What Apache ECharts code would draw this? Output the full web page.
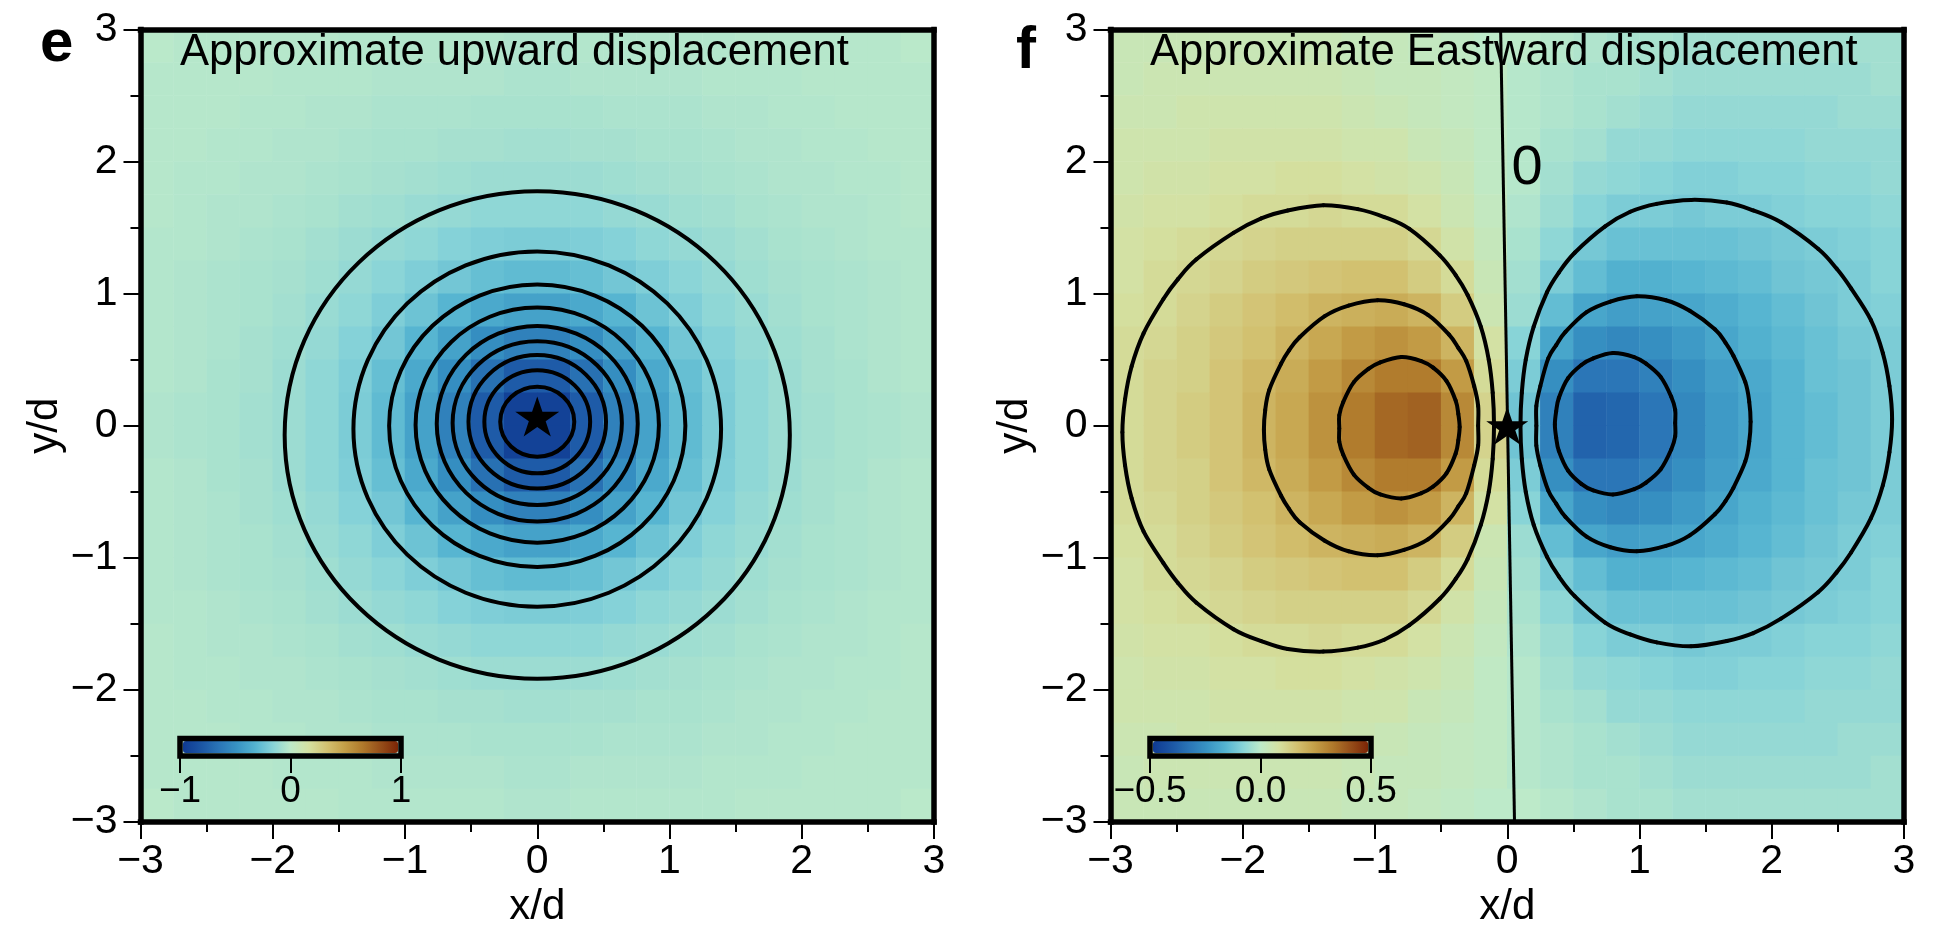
<!DOCTYPE html>
<html>
<head>
<meta charset="utf-8">
<title>Approximate displacement</title>
<script src="https://cdn.jsdelivr.net/npm/echarts@6.0.0/dist/echarts.min.js"></script>
<style>
html, body { margin: 0; padding: 0; background: #fff; }
#chart { width: 1945px; height: 946px; }
</style>
</head>
<body>
<div id="chart"></div>
<script>
// cell centres of the 24 x 24 sampling grid (x/d and y/d)
var cellCenters = [-2.875,-2.625,-2.375,-2.125,-1.875,-1.625,-1.375,-1.125,-0.875,-0.625,-0.375,-0.125,
                   0.125,0.375,0.625,0.875,1.125,1.375,1.625,1.875,2.125,2.375,2.625,2.875];

// panel e: upward displacement, rows from y/d = +2.875 (top) to -2.875 (bottom)
var upward = [
  [-.01,-.02,-.02,-.02,-.02,-.02,-.03,-.03,-.03,-.03,-.03,-.04,-.04,-.03,-.03,-.03,-.03,-.03,-.02,-.02,-.02,-.02,-.02,-.01],
  [-.02,-.02,-.02,-.02,-.03,-.03,-.03,-.04,-.04,-.04,-.04,-.05,-.05,-.04,-.04,-.04,-.04,-.03,-.03,-.03,-.02,-.02,-.02,-.02],
  [-.02,-.02,-.02,-.03,-.03,-.04,-.04,-.05,-.05,-.05,-.06,-.06,-.06,-.06,-.05,-.05,-.05,-.04,-.04,-.03,-.03,-.02,-.02,-.02],
  [-.02,-.02,-.03,-.03,-.04,-.04,-.05,-.06,-.06,-.07,-.07,-.08,-.08,-.07,-.07,-.06,-.06,-.05,-.04,-.04,-.03,-.03,-.02,-.02],
  [-.02,-.03,-.03,-.04,-.04,-.05,-.06,-.07,-.08,-.09,-.10,-.10,-.10,-.10,-.09,-.08,-.07,-.06,-.05,-.04,-.04,-.03,-.03,-.02],
  [-.02,-.03,-.04,-.04,-.05,-.06,-.08,-.09,-.11,-.12,-.14,-.14,-.14,-.14,-.12,-.11,-.09,-.08,-.06,-.05,-.04,-.04,-.03,-.02],
  [-.03,-.03,-.04,-.05,-.06,-.08,-.10,-.12,-.14,-.17,-.19,-.20,-.20,-.19,-.17,-.14,-.12,-.10,-.08,-.06,-.05,-.04,-.03,-.03],
  [-.03,-.04,-.05,-.06,-.07,-.09,-.12,-.15,-.19,-.23,-.27,-.29,-.29,-.27,-.23,-.19,-.15,-.12,-.09,-.07,-.06,-.05,-.04,-.03],
  [-.03,-.04,-.05,-.06,-.08,-.11,-.14,-.19,-.25,-.32,-.38,-.42,-.42,-.38,-.32,-.25,-.19,-.14,-.11,-.08,-.06,-.05,-.04,-.03],
  [-.03,-.04,-.05,-.07,-.09,-.12,-.17,-.23,-.32,-.42,-.53,-.60,-.60,-.53,-.42,-.32,-.23,-.17,-.12,-.09,-.07,-.05,-.04,-.03],
  [-.03,-.04,-.06,-.07,-.10,-.14,-.19,-.27,-.38,-.53,-.69,-.80,-.80,-.69,-.53,-.38,-.27,-.19,-.14,-.10,-.07,-.06,-.04,-.03],
  [-.04,-.05,-.06,-.08,-.10,-.14,-.20,-.29,-.42,-.60,-.80,-.95,-.95,-.80,-.60,-.42,-.29,-.20,-.14,-.10,-.08,-.06,-.05,-.04],
  [-.04,-.05,-.06,-.08,-.10,-.14,-.20,-.29,-.42,-.60,-.80,-.95,-.95,-.80,-.60,-.42,-.29,-.20,-.14,-.10,-.08,-.06,-.05,-.04],
  [-.03,-.04,-.06,-.07,-.10,-.14,-.19,-.27,-.38,-.53,-.69,-.80,-.80,-.69,-.53,-.38,-.27,-.19,-.14,-.10,-.07,-.06,-.04,-.03],
  [-.03,-.04,-.05,-.07,-.09,-.12,-.17,-.23,-.32,-.42,-.53,-.60,-.60,-.53,-.42,-.32,-.23,-.17,-.12,-.09,-.07,-.05,-.04,-.03],
  [-.03,-.04,-.05,-.06,-.08,-.11,-.14,-.19,-.25,-.32,-.38,-.42,-.42,-.38,-.32,-.25,-.19,-.14,-.11,-.08,-.06,-.05,-.04,-.03],
  [-.03,-.04,-.05,-.06,-.07,-.09,-.12,-.15,-.19,-.23,-.27,-.29,-.29,-.27,-.23,-.19,-.15,-.12,-.09,-.07,-.06,-.05,-.04,-.03],
  [-.03,-.03,-.04,-.05,-.06,-.08,-.10,-.12,-.14,-.17,-.19,-.20,-.20,-.19,-.17,-.14,-.12,-.10,-.08,-.06,-.05,-.04,-.03,-.03],
  [-.02,-.03,-.04,-.04,-.05,-.06,-.08,-.09,-.11,-.12,-.14,-.14,-.14,-.14,-.12,-.11,-.09,-.08,-.06,-.05,-.04,-.04,-.03,-.02],
  [-.02,-.03,-.03,-.04,-.04,-.05,-.06,-.07,-.08,-.09,-.10,-.10,-.10,-.10,-.09,-.08,-.07,-.06,-.05,-.04,-.04,-.03,-.03,-.02],
  [-.02,-.02,-.03,-.03,-.04,-.04,-.05,-.06,-.06,-.07,-.07,-.08,-.08,-.07,-.07,-.06,-.06,-.05,-.04,-.04,-.03,-.03,-.02,-.02],
  [-.02,-.02,-.02,-.03,-.03,-.04,-.04,-.05,-.05,-.05,-.06,-.06,-.06,-.06,-.05,-.05,-.05,-.04,-.04,-.03,-.03,-.02,-.02,-.02],
  [-.02,-.02,-.02,-.02,-.03,-.03,-.03,-.04,-.04,-.04,-.04,-.05,-.05,-.04,-.04,-.04,-.04,-.03,-.03,-.03,-.02,-.02,-.02,-.02],
  [-.01,-.02,-.02,-.02,-.02,-.02,-.03,-.03,-.03,-.03,-.03,-.04,-.04,-.03,-.03,-.03,-.03,-.03,-.02,-.02,-.02,-.02,-.02,-.01]
];

// panel f: eastward displacement, same grid
var eastward = [
  [.04,.04,.04,.04,.04,.04,.04,.03,.03,.02,.01,.00,.00,-.01,-.02,-.03,-.03,-.04,-.04,-.04,-.04,-.04,-.04,-.04],
  [.04,.05,.05,.05,.05,.05,.05,.04,.03,.03,.02,.01,-.01,-.02,-.03,-.03,-.04,-.05,-.05,-.05,-.05,-.05,-.05,-.04],
  [.05,.05,.06,.06,.06,.06,.06,.05,.04,.03,.02,.01,-.01,-.02,-.03,-.04,-.05,-.06,-.06,-.06,-.06,-.06,-.05,-.05],
  [.06,.06,.06,.07,.07,.07,.07,.06,.06,.04,.03,.01,-.01,-.03,-.04,-.06,-.06,-.07,-.07,-.07,-.07,-.06,-.06,-.06],
  [.06,.07,.07,.08,.08,.09,.09,.08,.07,.06,.04,.01,-.01,-.04,-.06,-.07,-.08,-.09,-.09,-.08,-.08,-.07,-.07,-.06],
  [.07,.08,.08,.09,.10,.10,.11,.10,.10,.08,.05,.02,-.02,-.05,-.08,-.10,-.10,-.11,-.10,-.10,-.09,-.08,-.08,-.07],
  [.08,.09,.10,.11,.12,.13,.13,.13,.13,.11,.07,.03,-.03,-.07,-.11,-.13,-.13,-.13,-.13,-.12,-.11,-.10,-.09,-.08],
  [.08,.10,.11,.12,.14,.15,.16,.17,.17,.14,.10,.04,-.04,-.10,-.14,-.17,-.17,-.16,-.15,-.14,-.12,-.11,-.10,-.08],
  [.09,.10,.12,.14,.16,.18,.20,.21,.22,.20,.14,.05,-.05,-.14,-.20,-.22,-.21,-.20,-.18,-.16,-.14,-.12,-.10,-.09],
  [.10,.11,.13,.15,.17,.20,.23,.26,.28,.26,.20,.08,-.08,-.20,-.26,-.28,-.26,-.23,-.20,-.17,-.15,-.13,-.11,-.10],
  [.10,.12,.13,.16,.19,.22,.26,.30,.33,.33,.26,.10,-.10,-.26,-.33,-.33,-.30,-.26,-.22,-.19,-.16,-.13,-.12,-.10],
  [.10,.12,.14,.16,.20,.23,.28,.33,.37,.38,.30,.12,-.12,-.30,-.38,-.37,-.33,-.28,-.23,-.20,-.16,-.14,-.12,-.10],
  [.10,.12,.14,.16,.20,.23,.28,.33,.37,.38,.30,.12,-.12,-.30,-.38,-.37,-.33,-.28,-.23,-.20,-.16,-.14,-.12,-.10],
  [.10,.12,.13,.16,.19,.22,.26,.30,.33,.33,.26,.10,-.10,-.26,-.33,-.33,-.30,-.26,-.22,-.19,-.16,-.13,-.12,-.10],
  [.10,.11,.13,.15,.17,.20,.23,.26,.28,.26,.20,.08,-.08,-.20,-.26,-.28,-.26,-.23,-.20,-.17,-.15,-.13,-.11,-.10],
  [.09,.10,.12,.14,.16,.18,.20,.21,.22,.20,.14,.05,-.05,-.14,-.20,-.22,-.21,-.20,-.18,-.16,-.14,-.12,-.10,-.09],
  [.08,.10,.11,.12,.14,.15,.16,.17,.17,.14,.10,.04,-.04,-.10,-.14,-.17,-.17,-.16,-.15,-.14,-.12,-.11,-.10,-.08],
  [.08,.09,.10,.11,.12,.13,.13,.13,.13,.11,.07,.03,-.03,-.07,-.11,-.13,-.13,-.13,-.13,-.12,-.11,-.10,-.09,-.08],
  [.07,.08,.08,.09,.10,.10,.11,.10,.10,.08,.05,.02,-.02,-.05,-.08,-.10,-.10,-.11,-.10,-.10,-.09,-.08,-.08,-.07],
  [.06,.07,.07,.08,.08,.09,.09,.08,.07,.06,.04,.01,-.01,-.04,-.06,-.07,-.08,-.09,-.09,-.08,-.08,-.07,-.07,-.06],
  [.06,.06,.06,.07,.07,.07,.07,.06,.06,.04,.03,.01,-.01,-.03,-.04,-.06,-.06,-.07,-.07,-.07,-.07,-.06,-.06,-.06],
  [.05,.05,.06,.06,.06,.06,.06,.05,.04,.03,.02,.01,-.01,-.02,-.03,-.04,-.05,-.06,-.06,-.06,-.06,-.06,-.05,-.05],
  [.04,.05,.05,.05,.05,.05,.05,.04,.03,.03,.02,.01,-.01,-.02,-.03,-.03,-.04,-.05,-.05,-.05,-.05,-.05,-.05,-.04],
  [.04,.04,.04,.04,.04,.04,.04,.03,.03,.02,.01,.00,.00,-.01,-.02,-.03,-.03,-.04,-.04,-.04,-.04,-.04,-.04,-.04]
];

// panel e contours (levels -0.9 ... -0.1): centre and semi-axes
var upRingCx = [0, 0, 0, 0, 0, 0, 0, 0, 0];
var upRingCy = [0.03, 0.03, 0.03, 0.02, 0.015, 0.005, 0.0, -0.025, -0.07];
var upRingRx = [0.28, 0.40, 0.52, 0.64, 0.76, 0.92, 1.12, 1.39, 1.91];
var upRingRy = [0.265, 0.39, 0.505, 0.62, 0.74, 0.89, 1.07, 1.345, 1.845];

// panel f contours (+0.1, +0.2, +0.3 west of the source; -0.1, -0.2, -0.3 east of it)
var eastPos01 = [[-0.10,0.00],[-0.11,0.25],[-0.14,0.50],[-0.20,0.75],[-0.30,0.99],[-0.39,1.14],[-0.51,1.29],[-0.74,1.49],[-0.93,1.58],[-1.13,1.64],[-1.39,1.67],[-1.66,1.63],[-1.86,1.57],[-2.07,1.46],[-2.35,1.26],[-2.49,1.11],[-2.60,0.96],[-2.75,0.70],[-2.84,0.45],[-2.89,0.20],[-2.91,-0.05],
  [-2.89,-0.30],[-2.84,-0.55],[-2.75,-0.80],[-2.60,-1.04],[-2.49,-1.19],[-2.35,-1.34],[-2.07,-1.54],[-1.86,-1.63],[-1.66,-1.69],[-1.39,-1.71],[-1.13,-1.68],[-0.93,-1.62],[-0.74,-1.51],[-0.51,-1.31],[-0.39,-1.16],[-0.30,-1.01],[-0.20,-0.75],[-0.14,-0.50],[-0.11,-0.25]];
var eastNeg01 = [[0.10,0.00],[0.11,0.25],[0.14,0.50],[0.20,0.75],[0.30,1.01],[0.39,1.16],[0.51,1.31],[0.74,1.51],[0.93,1.62],[1.13,1.68],[1.39,1.71],[1.66,1.69],[1.86,1.63],[2.07,1.54],[2.35,1.34],[2.49,1.19],[2.60,1.04],[2.75,0.80],[2.84,0.55],[2.89,0.30],[2.91,0.05],
  [2.89,-0.20],[2.84,-0.45],[2.75,-0.70],[2.60,-0.96],[2.49,-1.11],[2.35,-1.26],[2.07,-1.46],[1.86,-1.57],[1.66,-1.63],[1.39,-1.67],[1.13,-1.64],[0.93,-1.58],[0.74,-1.49],[0.51,-1.29],[0.39,-1.14],[0.30,-0.99],[0.20,-0.75],[0.14,-0.50],[0.11,-0.25]];
var eastPos02 = [[-0.22,0.00],[-0.22,0.15],[-0.25,0.30],[-0.31,0.49],[-0.37,0.59],[-0.44,0.69],[-0.60,0.84],[-0.78,0.92],[-0.98,0.95],[-1.20,0.91],[-1.38,0.83],[-1.57,0.67],[-1.65,0.57],[-1.71,0.47],[-1.80,0.27],[-1.83,0.12],[-1.84,-0.03],
  [-1.83,-0.18],[-1.80,-0.33],[-1.71,-0.53],[-1.65,-0.63],[-1.57,-0.73],[-1.38,-0.87],[-1.20,-0.95],[-0.98,-0.98],[-0.78,-0.94],[-0.60,-0.86],[-0.44,-0.71],[-0.37,-0.61],[-0.31,-0.51],[-0.25,-0.30],[-0.22,-0.15]];
var eastNeg02 = [[0.22,0.00],[0.22,0.15],[0.25,0.30],[0.31,0.51],[0.37,0.61],[0.44,0.71],[0.60,0.86],[0.78,0.94],[0.98,0.98],[1.20,0.95],[1.38,0.87],[1.57,0.73],[1.65,0.63],[1.71,0.53],[1.80,0.33],[1.83,0.18],[1.84,0.03],
  [1.83,-0.12],[1.80,-0.27],[1.71,-0.47],[1.65,-0.57],[1.57,-0.67],[1.38,-0.83],[1.20,-0.91],[0.98,-0.95],[0.78,-0.92],[0.60,-0.84],[0.44,-0.69],[0.37,-0.59],[0.31,-0.49],[0.25,-0.30],[0.22,-0.15]];
var eastPos03 = [[-0.36,-0.01],[-0.37,0.09],[-0.39,0.19],[-0.46,0.34],[-0.56,0.44],[-0.65,0.49],[-0.80,0.52],[-0.96,0.48],[-1.05,0.43],[-1.16,0.33],[-1.24,0.18],[-1.27,0.08],[-1.27,-0.02],
  [-1.27,-0.12],[-1.24,-0.22],[-1.16,-0.37],[-1.05,-0.47],[-0.96,-0.52],[-0.80,-0.55],[-0.65,-0.51],[-0.56,-0.46],[-0.46,-0.36],[-0.39,-0.21],[-0.37,-0.11]];
var eastNeg03 = [[0.36,0.01],[0.37,0.11],[0.39,0.21],[0.46,0.36],[0.56,0.46],[0.65,0.51],[0.80,0.55],[0.96,0.52],[1.05,0.47],[1.16,0.37],[1.24,0.22],[1.27,0.12],[1.27,0.02],
  [1.27,-0.08],[1.24,-0.18],[1.16,-0.33],[1.05,-0.43],[0.96,-0.48],[0.80,-0.52],[0.65,-0.49],[0.56,-0.44],[0.46,-0.34],[0.39,-0.19],[0.37,-0.09]];
var eastZero = [[-0.05, 3.0], [0.055, -3.0]];
var eastZeroLabel = [[0.15, 1.95]];

var sourceE = [[0, 0.07]];
var sourceF = [[0, 0]];

var romaR = ['#0f3a92','#1b55a4','#2a75b6','#3893c3','#53b2d0','#86d3d8','#bdeac9',
             '#d4e1a2','#d3c272','#c4a048','#b07a2c','#96501a','#7c2506'];

var FONT = 'Liberation Sans';
var MINUS = function (v) { return String(v).replace('-', '\u2212'); };
var STAR = 'path://M50,0L61.2,34.5L97.6,34.5L68.2,55.9L79.4,90.5L50,69.1L20.6,90.5L31.8,55.9L2.4,34.5L38.8,34.5Z';
var eastContours = [eastPos01, eastPos02, eastPos03, eastNeg01, eastNeg02, eastNeg03];

function toCells(rows) {
    var out = [];
    for (var r = 0; r < rows.length; r++) {
        for (var c = 0; c < rows[r].length; c++) {
            out.push([c, rows.length - 1 - r, rows[r][c]]);
        }
    }
    return out;
}

function frameX(g, pos) {
    return {
        type: 'value', gridIndex: g, position: pos, min: -3, max: 3, interval: 1, z: 10,
        axisLine: { show: true, onZero: false, lineStyle: { color: '#000', width: 5.5, cap: 'square' } },
        axisTick: { show: false }, axisLabel: { show: false }, splitLine: { show: false }
    };
}
function mainAxis(g, pos, name) {
    var horiz = (pos === 'bottom');
    return {
        type: 'value', gridIndex: g, position: pos, min: -3, max: 3, interval: 1, z: 10,
        name: name, nameLocation: 'middle', nameGap: horiz ? 63 : 70, nameRotate: horiz ? 0 : 90,
        nameTextStyle: { fontFamily: FONT, fontSize: 42, color: '#000' },
        axisLine: { show: true, onZero: false, lineStyle: { color: '#000', width: 5.5, cap: 'square' } },
        axisTick: { show: true, inside: false, length: 17, lineStyle: { color: '#000', width: 2 } },
        minorTick: { show: true, splitNumber: 2, length: 10, lineStyle: { color: '#000', width: 2 } },
        axisLabel: { show: true, margin: horiz ? 19 : 23, fontFamily: FONT, fontSize: 41, color: '#000', formatter: MINUS },
        splitLine: { show: false }
    };
}
function cellAxis(g) {
    return { type: 'category', gridIndex: g, data: cellCenters, show: false };
}
function cbarX(g, min, max, interval, fmt) {
    return {
        type: 'value', gridIndex: g, position: 'bottom', min: min, max: max, interval: interval, z: 20,
        axisLine: { show: false },
        axisTick: { show: true, inside: false, length: 17, lineStyle: { color: '#000', width: 2 } },
        axisLabel: { show: true, margin: 17, fontFamily: FONT, fontSize: 37, color: '#000', formatter: fmt },
        splitLine: { show: false }
    };
}
function cbarY(g) {
    return { type: 'value', gridIndex: g, min: 0, max: 1, show: false };
}

// closed contour drawn as a Catmull-Rom curve through the read points
function renderContour(params, api) {
    var pts = eastContours[params.dataIndex].map(function (p) { return api.coord(p); });
    var n = pts.length, kids = [];
    for (var i = 0; i < n; i++) {
        var p0 = pts[(i - 1 + n) % n], p1 = pts[i], p2 = pts[(i + 1) % n], p3 = pts[(i + 2) % n];
        kids.push({
            type: 'bezierCurve',
            shape: {
                x1: p1[0], y1: p1[1], x2: p2[0], y2: p2[1],
                cpx1: p1[0] + (p2[0] - p0[0]) / 6, cpy1: p1[1] + (p2[1] - p0[1]) / 6,
                cpx2: p2[0] - (p3[0] - p1[0]) / 6, cpy2: p2[1] - (p3[1] - p1[1]) / 6
            },
            style: { fill: null, stroke: '#000', lineWidth: 4, lineCap: 'round' }
        });
    }
    return { type: 'group', children: kids };
}

var upRings = upRingCx.map(function (cx, i) { return [cx, upRingCy[i], upRingRx[i], upRingRy[i]]; });

var option = {
    animation: false,
    backgroundColor: '#fff',
    textStyle: { fontFamily: FONT },
    title: [
        { text: 'Approximate upward displacement', left: 180, top: 31, padding: 0,
          textStyle: { fontFamily: FONT, fontSize: 43.6, fontWeight: 'normal', color: '#000' } },
        { text: 'Approximate Eastward displacement', left: 1150, top: 31, padding: 0,
          textStyle: { fontFamily: FONT, fontSize: 43.6, fontWeight: 'normal', color: '#000' } },
        { text: 'e', left: 40, top: 14, padding: 0,
          textStyle: { fontFamily: FONT, fontSize: 60, fontWeight: 'bold', color: '#000' } },
        { text: 'f', left: 1016, top: 21, padding: 0,
          textStyle: { fontFamily: FONT, fontSize: 60, fontWeight: 'bold', color: '#000' } }
    ],
    grid: [
        { left: 140.5, top: 29.5, width: 793.5, height: 792.5, outerBoundsMode: 'none' },
        { left: 1110.5, top: 29.5, width: 793.5, height: 792.5, outerBoundsMode: 'none' },
        { left: 180, top: 738.5, width: 221, height: 17.5, show: true, z: 20,
          borderColor: '#000', borderWidth: 5.5, backgroundColor: 'transparent', outerBoundsMode: 'none' },
        { left: 1150, top: 738.5, width: 221, height: 17.5, show: true, z: 20,
          borderColor: '#000', borderWidth: 5.5, backgroundColor: 'transparent', outerBoundsMode: 'none' }
    ],
    xAxis: [
        mainAxis(0, 'bottom', 'x/d'), frameX(0, 'top'), cellAxis(0),
        mainAxis(1, 'bottom', 'x/d'), frameX(1, 'top'), cellAxis(1),
        cbarX(2, -1, 1, 1, MINUS),
        cbarX(3, -0.5, 0.5, 0.5, function (v) { return v.toFixed(1).replace('-', '\u2212'); })
    ],
    yAxis: [
        mainAxis(0, 'left', 'y/d'), frameX(0, 'right'), cellAxis(0),
        mainAxis(1, 'left', 'y/d'), frameX(1, 'right'), cellAxis(1),
        cbarY(2), cbarY(3)
    ],
    visualMap: [
        { type: 'continuous', seriesIndex: 0, dimension: 2, min: -1, max: 1,
          orient: 'horizontal', left: 183, top: 741, itemWidth: 12, itemHeight: 215,
          calculable: false, hoverLink: false, padding: 0, text: null, showLabel: false,
          inRange: { color: romaR } },
        { type: 'continuous', seriesIndex: 1, dimension: 2, min: -0.5, max: 0.5,
          orient: 'horizontal', left: 1153, top: 741, itemWidth: 12, itemHeight: 215,
          calculable: false, hoverLink: false, padding: 0, text: null, showLabel: false,
          inRange: { color: romaR } }
    ],
    series: [
        { type: 'heatmap', xAxisIndex: 2, yAxisIndex: 2, data: toCells(upward), silent: true,
          emphasis: { disabled: true } },
        { type: 'heatmap', xAxisIndex: 5, yAxisIndex: 5, data: toCells(eastward), silent: true,
          emphasis: { disabled: true } },
        {
            type: 'custom', xAxisIndex: 0, yAxisIndex: 0, data: upRings, silent: true, z: 5,
            renderItem: function (params, api) {
                var c = api.coord([api.value(0), api.value(1)]);
                var s = api.size([api.value(2), api.value(3)]);
                return {
                    type: 'ellipse',
                    shape: { cx: c[0], cy: c[1], rx: s[0], ry: s[1] },
                    style: { fill: 'none', stroke: '#000', lineWidth: 4 }
                };
            }
        },
        { type: 'custom', xAxisIndex: 3, yAxisIndex: 3, data: eastContours.map(function (c, i) { return [0, 0]; }),
          silent: true, z: 5, renderItem: renderContour },
        { type: 'line', xAxisIndex: 3, yAxisIndex: 3, data: eastZero, symbol: 'none', silent: true, z: 5,
          lineStyle: { color: '#000', width: 3, opacity: 1 } },
        { type: 'scatter', xAxisIndex: 0, yAxisIndex: 0, data: sourceE, symbol: STAR, symbolSize: [44, 40],
          itemStyle: { color: '#000', opacity: 1 }, silent: true, z: 8 },
        { type: 'scatter', xAxisIndex: 3, yAxisIndex: 3, data: sourceF, symbol: STAR, symbolSize: [42, 38],
          itemStyle: { color: '#000', opacity: 1 }, silent: true, z: 8 },
        { type: 'scatter', xAxisIndex: 3, yAxisIndex: 3, data: eastZeroLabel, symbolSize: 1,
          itemStyle: { color: '#fff', opacity: 0 }, silent: true, z: 8,
          label: { show: true, position: 'inside', formatter: '0', fontFamily: FONT, fontSize: 56,
                   color: '#000', opacity: 1 } }
    ]
};

var chart = echarts.init(document.getElementById('chart'));
chart.setOption(option);
</script>
</body>
</html>
